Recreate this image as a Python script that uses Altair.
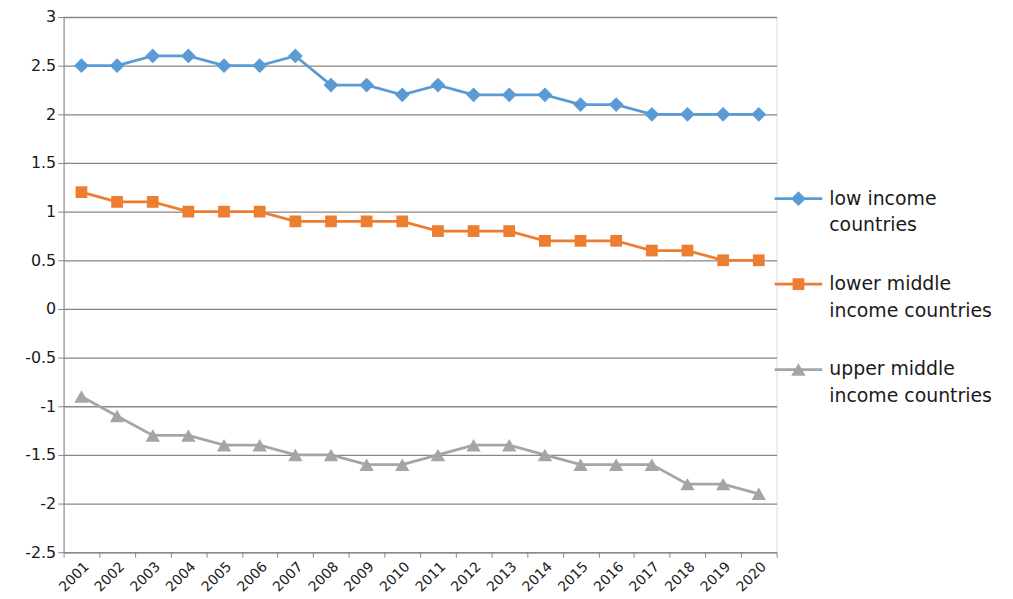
import altair as alt
import pandas as pd

years = [str(y) for y in range(2001, 2021)]
low_income = [2.5, 2.5, 2.6, 2.6, 2.5, 2.5, 2.6, 2.3, 2.3, 2.2, 2.3, 2.2, 2.2, 2.2, 2.1, 2.1, 2.0, 2.0, 2.0, 2.0]
lower_middle = [1.2, 1.1, 1.1, 1.0, 1.0, 1.0, 0.9, 0.9, 0.9, 0.9, 0.8, 0.8, 0.8, 0.7, 0.7, 0.7, 0.6, 0.6, 0.5, 0.5]
upper_middle = [-0.9, -1.1, -1.3, -1.3, -1.4, -1.4, -1.5, -1.5, -1.6, -1.6, -1.5, -1.4, -1.4, -1.5, -1.6, -1.6, -1.6, -1.8, -1.8, -1.9]

series_names = ["low income countries", "lower middle income countries", "upper middle income countries"]
legend_lines = [["low income", "countries"], ["lower middle", "income countries"], ["upper middle", "income countries"]]
colors = ["#5B9BD5", "#ED7D31", "#A5A5A5"]
shapes = ["diamond", "square", "triangle-up"]
sizes = [220, 140, 210]
y_ticks = [3, 2.5, 2, 1.5, 1, 0.5, 0, -0.5, -1, -1.5, -2, -2.5]

rows = []
for name, vals in zip(series_names, [low_income, lower_middle, upper_middle]):
    for yr, v in zip(years, vals):
        rows.append({"year": yr, "value": v, "series": name})
df = pd.DataFrame(rows)

FONT = "DejaVu Sans"
GRID = "#878787"
TXT = "#1a1a1a"

x_enc = alt.X(
    "year:O",
    sort=years,
    scale=alt.Scale(type="band", paddingInner=0, paddingOuter=0),
    bandPosition=0.5,
    axis=alt.Axis(
        title=None, labelAngle=-45, tickBand="extent", grid=False,
        domainColor=GRID, tickColor=GRID, tickSize=5,
        labelFont=FONT, labelFontSize=14, labelColor=TXT, labelPadding=2,
    ),
)
y_enc = alt.Y(
    "value:Q",
    scale=alt.Scale(domain=[-2.5, 3], nice=False, zero=False),
    axis=alt.Axis(
        title=None, values=y_ticks, labelExpr="toString(datum.value)",
        grid=True, gridColor=GRID, gridWidth=1.3, domainColor=GRID, tickColor=GRID,
        tickSize=6, labelFont=FONT, labelFontSize=16, labelColor=TXT, labelPadding=2,
    ),
)

layers = []
for name, col, shp, sz in zip(series_names, colors, shapes, sizes):
    sub = alt.Chart(df).transform_filter(alt.datum.series == name)
    layers.append(sub.mark_line(color=col, strokeWidth=2.8).encode(x=x_enc, y=y_enc))
    layers.append(sub.mark_point(shape=shp, filled=True, size=sz, color=col, opacity=1).encode(x=x_enc, y=y_enc))

one = pd.DataFrame({"k": [0]})
for i, (lines, col, shp, sz) in enumerate(zip(legend_lines, colors, shapes, sizes)):
    y0 = 183 + 86 * i
    layers.append(alt.Chart(one).mark_rule(color=col, strokeWidth=2.8).encode(
        x=alt.value(716), x2=alt.value(764), y=alt.value(y0)))
    layers.append(alt.Chart(one).mark_point(shape=shp, filled=True, size=sz, color=col, opacity=1).encode(
        x=alt.value(740), y=alt.value(y0)))
    layers.append(alt.Chart(one).mark_text(
        align="left", baseline="middle", font=FONT, fontSize=19, color=TXT
    ).encode(x=alt.value(771), y=alt.value(y0), text=alt.value(lines[0])))
    layers.append(alt.Chart(one).mark_text(
        align="left", baseline="middle", font=FONT, fontSize=19, color=TXT
    ).encode(x=alt.value(771), y=alt.value(y0 + 27), text=alt.value(lines[1])))

chart = alt.layer(*layers).properties(
    width=718, height=539,
    padding={"left": 56, "top": 7, "right": 230, "bottom": 40},
    autosize="none",
).configure_view(strokeWidth=0).configure(background="white")

chart.save("out.html", embed_options={"renderer": "svg", "actions": False})
